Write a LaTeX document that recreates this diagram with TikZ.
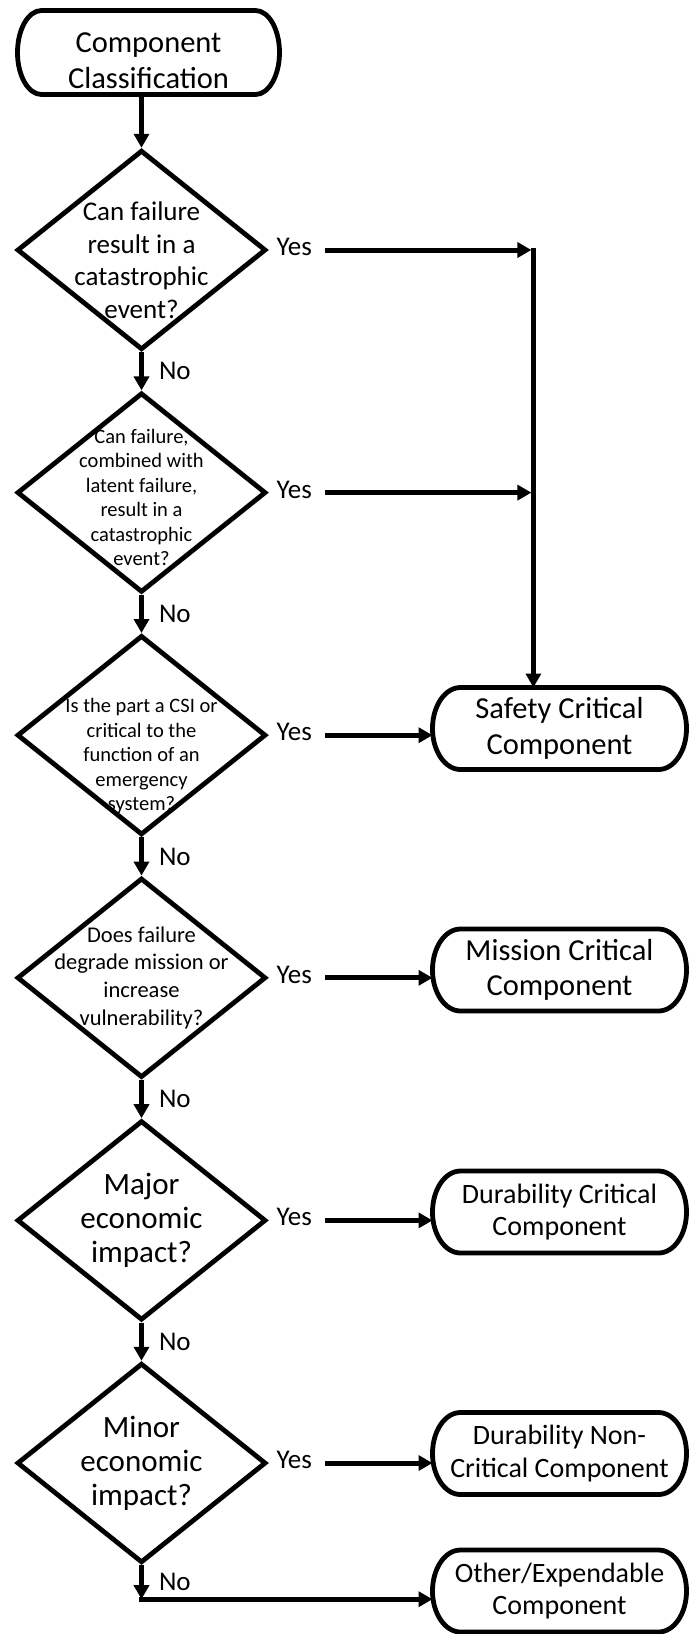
\documentclass[tikz,border=0pt]{standalone}
\usepackage{fontspec}
\setmainfont{Carlito}
\usetikzlibrary{shapes.geometric,arrows.meta,calc}
\newcommand{\termshape}[3]{%
  \draw[outline] ([xshift=#2]#1.north west) -- ([xshift=-#2]#1.north east)
    arc[start angle=90,end angle=-90,x radius=#2,y radius=#3]
    -- ([xshift=#2]#1.south west)
    arc[start angle=270,end angle=90,x radius=#2,y radius=#3] -- cycle;}
\begin{document}
\begin{tikzpicture}[x=1pt,y=1pt,
  dia/.style={draw,diamond,line width=4.8pt,minimum width=249pt,minimum height=199.6pt,inner sep=0pt},
  termbox/.style={rectangle,draw=none,minimum width=254pt,minimum height=82pt,inner sep=0pt,outer sep=0pt,align=center},
  bigfont/.style={font=\fontsize{30.5}{35.5}\selectfont},
  smallfont/.style={font=\fontsize{28}{32.5}\selectfont},
  qtext/.style={align=center,inner sep=0pt},
  lbl/.style={inner sep=0pt,font=\fontsize{27}{32}\selectfont},
  nol/.style={lbl,anchor=west,xshift=15pt},
  yesl/.style={lbl,anchor=west},
  arr/.style={line width=5pt,-{Triangle[length=14pt,width=15pt]}},
  outline/.style={line width=4.8pt}
]
\path[fill=white,use as bounding box] (0,0) rectangle (689,-1634);

% start terminal
\node[termbox,minimum width=262pt,minimum height=84pt] (start) at (148.5,-52.5) {};
\node[qtext,bigfont] (starttext) at ([yshift=-8pt]start.center) {Component\\Classification};
\termshape{start}{24pt}{42pt}

% decision diamonds
\node[dia] (d1) at (141.5,-250) {};
\node[qtext,font=\fontsize{27}{32.5}\selectfont] (q1) at ([yshift=-10pt]d1.center) {Can failure\\result in a\\catastrophic\\event?};
\node[dia] (d2) at (141.5,-492.6) {};
\node[qtext,font=\fontsize{20.5}{24.5}\selectfont] (q2) at ([yshift=-5pt]d2.center) {Can failure,\\combined with\\latent failure,\\result in a\\catastrophic\\event?};
\node[dia] (d3) at (141.5,-735.2) {};
\node[qtext,font=\fontsize{20.5}{24.6}\selectfont] (q3) at ([yshift=-21pt]d3.center) {Is the part a CSI or\\critical to the\\function of an\\emergency\\system?};
\node[dia] (d4) at (141.5,-977.8) {};
\node[qtext,font=\fontsize{22.5}{27.7}\selectfont] (q4) at (d4.center) {Does failure\\degrade mission or\\increase\\vulnerability?};
\node[dia] (d5) at (141.5,-1220.4) {};
\node[qtext,font=\fontsize{31}{34}\selectfont] (q5) at (d5.center) {Major\\economic\\impact?};
\node[dia] (d6) at (141.5,-1463) {};
\node[qtext,font=\fontsize{31}{34}\selectfont] (q6) at (d6.center) {Minor\\economic\\impact?};

% result terminals
\node[termbox,bigfont] (safety) at (559.5,-728.5) {Safety Critical\\Component};
\termshape{safety}{28pt}{41pt}
\node[termbox,bigfont] (mission) at (559.5,-970) {Mission Critical\\Component};
\termshape{mission}{28pt}{41pt}
\node[termbox,smallfont] (dcrit) at (559.5,-1212) {Durability Critical\\Component};
\termshape{dcrit}{28pt}{41pt}
\node[termbox,smallfont] (dnc) at (559.5,-1453.5) {Durability Non-\\Critical Component};
\termshape{dnc}{28pt}{41pt}
\node[termbox,smallfont] (other) at (559.5,-1591) {Other/Expendable\\Component};
\termshape{other}{28pt}{41pt}

% Yes labels
\node[yesl] (y1) at ([xshift=8pt,yshift=3pt]d1.east) {Yes};
\node[yesl] (y2) at ([xshift=8pt,yshift=3pt]d2.east) {Yes};
\node[yesl] (y3) at ([xshift=8pt,yshift=3pt]d3.east) {Yes};
\node[yesl] (y4) at ([xshift=8pt,yshift=3pt]d4.east) {Yes};
\node[yesl] (y5) at ([xshift=8pt,yshift=3pt]d5.east) {Yes};
\node[yesl] (y6) at ([xshift=8pt,yshift=3pt]d6.east) {Yes};

% connectors
\draw[arr] (start.south -| d1.north) -- (d1.north);
\draw[arr] (d1.south) -- node[nol]{No} (d2.north);
\draw[arr] (d2.south) -- node[nol]{No} (d3.north);
\draw[arr] (d3.south) -- node[nol]{No} (d4.north);
\draw[arr] (d4.south) -- node[nol]{No} (d5.north);
\draw[arr] (d5.south) -- node[nol]{No} (d6.north);
\path (d6.south) ++(0pt,-34pt) coordinate (c6);
\draw[arr] (d6.south) -- node[nol]{No} (c6);
\draw[arr] ([xshift=-2.5pt]c6) -- (c6 -| other.west);

\path (d1.east) ++(265pt,0pt) coordinate (j1);
\draw[arr] ($(d1.east)+(57pt,0pt)$) -- ([xshift=-2pt]j1);
\draw[arr] ($(d2.east)+(57pt,0pt)$) -- ([xshift=-2pt]d2.east -| j1);
\draw[arr] ([yshift=2.5pt]j1) -- (j1 |- safety.north);
\draw[arr] ($(d3.east)+(57pt,0pt)$) -- (d3.east -| safety.west);
\draw[arr] ($(d4.east)+(57pt,0pt)$) -- (d4.east -| mission.west);
\draw[arr] ($(d5.east)+(57pt,0pt)$) -- (d5.east -| dcrit.west);
\draw[arr] ($(d6.east)+(57pt,0pt)$) -- (d6.east -| dnc.west);
\end{tikzpicture}
\end{document}
